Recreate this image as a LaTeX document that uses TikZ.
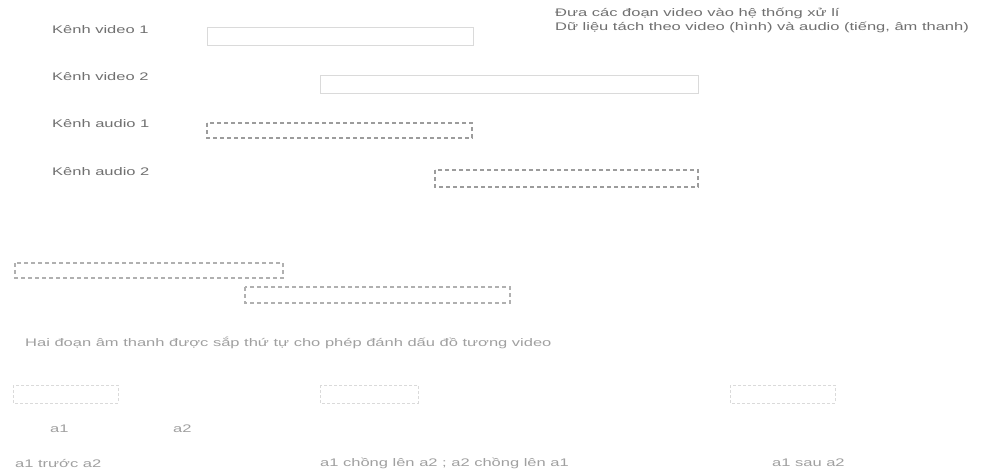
\documentclass[tikz,border=0pt]{standalone}
\usepackage{fontspec}
\setmainfont{Liberation Sans}[FakeStretch=1.5]
\usetikzlibrary{positioning}
\definecolor{txtgray}{HTML}{707070}
\definecolor{faintgray}{HTML}{A0A0A0}
\definecolor{boxgray}{HTML}{DADADA}
\definecolor{dashgray}{HTML}{9C9C9C}

\begin{document}
\begin{tikzpicture}[x=1pt, y=-1pt,
  lbl/.style={anchor=west, inner sep=0pt, font=\fontsize{11}{14}\selectfont, text=txtgray},
  small/.style={lbl, text=faintgray},
  vclip/.style={draw=boxgray, line width=0.8pt},
  aclip/.style={draw=dashgray, line width=1.2pt, dash pattern=on 4pt off 3pt},
  mini/.style={draw=boxgray, line width=0.8pt, dash pattern=on 3pt off 2pt},
]
  \useasboundingbox[fill=white] (0,0) rectangle (992,472);

  % channels
  \node[lbl] (kv1) at (52,30) {Kênh video 1};
  \node[lbl] (kv2) at (52,77) {Kênh video 2};
  \node[lbl] (ka1) at (52,124) {Kênh audio 1};
  \node[lbl] (ka2) at (52,172) {Kênh audio 2};

  \node[lbl, align=left] (note) at (555,20) {Đưa các đoạn video vào hệ thống xử lí\\
    Dữ liệu tách theo video (hình) và audio (tiếng, âm thanh)};

  \draw[vclip] (207,27) rectangle (473,45);
  \draw[vclip] (320,75) rectangle (698,93);
  \draw[aclip] (207,123) rectangle (472,138);
  \draw[aclip] (435,170) rectangle (698,187);

  % ordered audio
  \draw[aclip, draw=dashgray!80] (15,263) rectangle (283,278);
  \draw[aclip, draw=dashgray!80] (245,287) rectangle (510,303);
  \node[small] (order) at (25,343)
    {Hai đoạn âm thanh được sắp thứ tự cho phép đánh dấu đồ tương video};

  % relations
  \draw[mini] (13,385) rectangle (118,403);
  \draw[mini] (320,385) rectangle (418,403);
  \draw[mini] (730,385) rectangle (835,403);
  \node[small] (a1) at (50,429) {a1};
  \node[small] (a2) at (173,429) {a2};
  \node[small] (before) at (15,463) {a1 trước a2};
  \node[small] (overlap) at (320,463) {a1 chồng lên a2 ; a2 chồng lên a1};
  \node[small] (after) at (772,463) {a1 sau a2};
\end{tikzpicture}
\end{document}
